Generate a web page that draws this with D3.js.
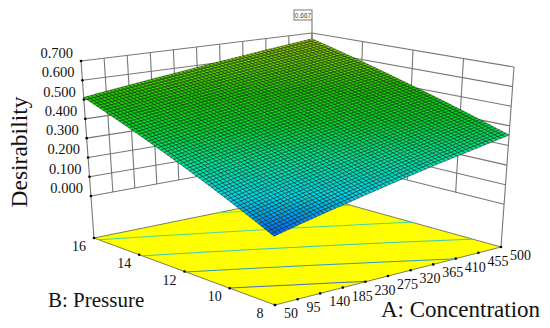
<!DOCTYPE html>
<html>
<head>
<meta charset="utf-8">
<script src="https://cdnjs.cloudflare.com/ajax/libs/d3/7.8.5/d3.min.js"></script>
<style>
  body { margin: 0; background: #fff; }
  svg { display: block; }
  text { font-family: "Liberation Serif", serif; fill: #111; }
</style>
</head>
<body>
<script>
// values
const concentration = [50, 95, 140, 185, 230, 275, 320, 365, 410, 455, 500];
const pressure = [8, 10, 12, 14, 16];
const desirabilityTicks = [0, 0.1, 0.2, 0.3, 0.4, 0.5, 0.6, 0.7];
const contourLevels = [0.2, 0.3, 0.4, 0.5, 0.6];
// one row per pressure, one column per concentration
const desirability = [
  [0.095, 0.121, 0.147, 0.172, 0.198, 0.224, 0.25, 0.276, 0.301, 0.327, 0.353],
  [0.199, 0.222, 0.246, 0.269, 0.292, 0.316, 0.339, 0.362, 0.385, 0.409, 0.432],
  [0.303, 0.324, 0.344, 0.365, 0.386, 0.407, 0.427, 0.448, 0.469, 0.489, 0.51],
  [0.407, 0.425, 0.443, 0.462, 0.48, 0.498, 0.516, 0.534, 0.553, 0.571, 0.589],
  [0.511, 0.527, 0.542, 0.558, 0.573, 0.589, 0.605, 0.62, 0.636, 0.651, 0.667],
];
const peakLabel = "0.667";

let width = 550;
let height = 328;
let meshSteps = 60;

let svg = d3
  .select("body")
  .append("svg")
  .attr("width", width)
  .attr("height", height);

// box corners on screen, floor and top, indexed by [concentration][pressure]
let floorBox = { a0b0: [275, 305], a1b0: [501, 247], a0b1: [94, 238], a1b1: [310, 194] };
let topBox = { a0b0: [272, 103], a1b0: [514, 67], a0b1: [81, 61], a1b1: [312, 33] };

let aScale = d3.scaleLinear().domain([50, 500]).range([0, 1]);
let bScale = d3.scaleLinear().domain([8, 16]).range([0, 1]);
let zScale = d3.scaleLinear().domain([-0.2175, 0.7]).range([0, 1]);

function corner(box, u, v) {
  let low = d3.interpolate(box.a0b0, box.a1b0)(u);
  let high = d3.interpolate(box.a0b1, box.a1b1)(u);
  return d3.interpolate(low, high)(v);
}
function project(a, b, z) {
  let u = aScale(a);
  let v = bScale(b);
  return d3.interpolate(corner(floorBox, u, v), corner(topBox, u, v))(zScale(z));
}
const floorZ = zScale.domain()[0];
const topZ = 0.7;
let path = d3.line();

// desirability at any point of the table, used to subdivide the mesh
let colIndex = d3.scaleLinear().domain([50, 500]).range([0, concentration.length - 1]);
let rowIndex = d3.scaleLinear().domain([8, 16]).range([0, pressure.length - 1]);
function lookup(a, b) {
  let cx = colIndex(a);
  let cy = rowIndex(b);
  let i = Math.min(Math.floor(cx), concentration.length - 2);
  let j = Math.min(Math.floor(cy), pressure.length - 2);
  let low = d3.interpolateNumber(desirability[j][i], desirability[j][i + 1])(cx - i);
  let high = d3.interpolateNumber(desirability[j + 1][i], desirability[j + 1][i + 1])(cx - i);
  return d3.interpolateNumber(low, high)(cy - j);
}

let color = d3
  .scaleLinear()
  .domain([0.095, 0.13, 0.2, 0.3, 0.4, 0.5, 0.667])
  .range(["#0060ff", "#0088f8", "#00d8e8", "#00e898", "#00dc30", "#18d000", "#a0d800"]);

// walls
let walls = svg.append("g").attr("fill", "none").attr("stroke", "#777").attr("stroke-width", 1.1);
desirabilityTicks.forEach((z) => {
  walls.append("path").attr("d", path([project(50, 16, z), project(500, 16, z), project(500, 8, z)]));
});
concentration.slice(1).forEach((a) => {
  walls.append("path").attr("d", path([project(a, 16, 0), project(a, 16, topZ)]));
});
pressure.slice(0, -1).filter((b) => b > 8).forEach((b) => {
  walls.append("path").attr("d", path([project(500, b, 0), project(500, b, topZ)]));
});
[[50, 16], [500, 16], [500, 8]].forEach((d) => {
  walls.append("path").attr("d", path([project(d[0], d[1], floorZ), project(d[0], d[1], topZ)]));
});

// floor
svg
  .append("path")
  .attr("d", path([[50, 8], [500, 8], [500, 16], [50, 16]].map((d) => project(d[0], d[1], floorZ))) + "Z")
  .attr("fill", "#ffff00")
  .attr("stroke", "#444")
  .attr("stroke-width", 0.7);

// contours on the floor, one segment per table cell
let contourColor = d3
  .scaleLinear()
  .domain([0.2, 0.3, 0.4, 0.5, 0.6])
  .range(["#4868c8", "#3498c0", "#38c8c0", "#40d8a0", "#70e050"]);
function crossing(level, p, q) {
  if ((p.z < level) === (q.z < level)) return null;
  let t = (level - p.z) / (q.z - p.z);
  return project(p.a + t * (q.a - p.a), p.b + t * (q.b - p.b), floorZ);
}
let contourG = svg.append("g").attr("fill", "none").attr("stroke-width", 1);
contourLevels.forEach((level) => {
  for (let j = 0; j < pressure.length - 1; j++) {
    for (let i = 0; i < concentration.length - 1; i++) {
      let cell = [[i, j], [i + 1, j], [i + 1, j + 1], [i, j + 1]].map((d) => ({
        a: concentration[d[0]],
        b: pressure[d[1]],
        z: desirability[d[1]][d[0]],
      }));
      let pts = cell.map((p, k) => crossing(level, p, cell[(k + 1) % 4])).filter((d) => d);
      if (pts.length === 2) {
        contourG.append("path").attr("d", path(pts)).attr("stroke", contourColor(level));
      }
    }
  }
});

// surface mesh
let aStep = d3.scaleLinear().domain([0, meshSteps]).range([50, 500]);
let bStep = d3.scaleLinear().domain([0, meshSteps]).range([16, 8]);
let cells = d3.cross(d3.range(meshSteps), d3.range(meshSteps), (j, i) => ({ i, j }));
svg
  .append("g")
  .attr("stroke", "#000")
  .attr("stroke-width", 0.42)
  .selectAll("path")
  .data(cells)
  .join("path")
  .attr("d", (d) => {
    let pts = [[d.i, d.j], [d.i + 1, d.j], [d.i + 1, d.j + 1], [d.i, d.j + 1]].map((c) => {
      let a = aStep(c[0]);
      let b = bStep(c[1]);
      return project(a, b, lookup(a, b));
    });
    return path(pts) + "Z";
  })
  .attr("fill", (d) => color(lookup(aStep(d.i + 0.5), bStep(d.j + 0.5))));

// tick marks and labels
let ticks = svg.append("g").attr("fill", "#000");
concentration.forEach((a) => {
  let p = project(a, 8, floorZ);
  ticks.append("circle").attr("cx", p[0]).attr("cy", p[1]).attr("r", 1.3);
  svg.append("text").attr("x", p[0] + 9).attr("y", p[1] + 13).attr("font-size", 14).text(a);
});
pressure.forEach((b) => {
  let p = project(50, b, floorZ);
  ticks.append("circle").attr("cx", p[0]).attr("cy", p[1]).attr("r", 1.3);
  svg
    .append("text")
    .attr("x", p[0] - 15)
    .attr("y", p[1] + 13)
    .attr("text-anchor", "middle")
    .attr("font-size", 14)
    .text(b);
});
desirabilityTicks.forEach((z) => {
  let p = project(50, 16, z);
  ticks.append("circle").attr("cx", p[0]).attr("cy", p[1]).attr("r", 1.3);
  svg
    .append("text")
    .attr("x", p[0] - 8)
    .attr("y", p[1] - 3)
    .attr("text-anchor", "end")
    .attr("font-size", 14.5)
    .text(d3.format(".3f")(z));
});

// axis titles
svg
  .append("text")
  .attr("transform", "translate(27,152) rotate(-90)")
  .attr("text-anchor", "middle")
  .attr("font-size", 23.5)
  .text("Desirability");
svg.append("text").attr("x", 48).attr("y", 307).attr("font-size", 21).text("B: Pressure");
svg.append("text").attr("x", 381).attr("y", 317).attr("font-size", 23).text("A: Concentration");

// peak flag
let peak = project(500, 16, topZ);
svg
  .append("path")
  .attr("d", path([[peak[0], peak[1]], [peak[0], peak[1] - 13]]))
  .attr("stroke", "#777")
  .attr("stroke-width", 1.1);
svg
  .append("rect")
  .attr("x", peak[0] - 18)
  .attr("y", peak[1] - 23)
  .attr("width", 18)
  .attr("height", 10)
  .attr("fill", "#fff")
  .attr("stroke", "#555")
  .attr("stroke-width", 0.8);
svg
  .append("text")
  .attr("x", peak[0] - 9)
  .attr("y", peak[1] - 15.5)
  .attr("text-anchor", "middle")
  .attr("font-size", 6.5)
  .style("font-family", "'Liberation Sans', sans-serif")
  .style("fill", "#444")
  .text(peakLabel);
</script>
</body>
</html>
